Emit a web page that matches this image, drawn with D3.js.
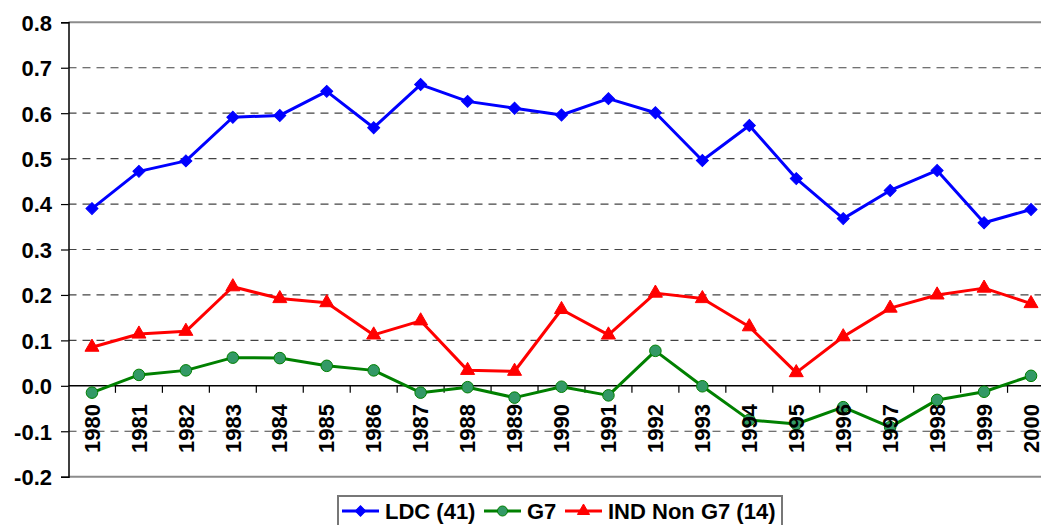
<!DOCTYPE html>
<html>
<head>
<meta charset="utf-8">
<script src="https://cdn.jsdelivr.net/npm/d3@7"></script>
<style>
    body { margin: 0; background: #fff; }
    svg text { font-family: "Liberation Sans", Arial, sans-serif; font-weight: bold; fill: #000; }
</style>
</head>
<body>
<svg id="chart" width="1041" height="525"></svg>
<script>
const years = [1980, 1981, 1982, 1983, 1984, 1985, 1986, 1987, 1988, 1989, 1990,
    1991, 1992, 1993, 1994, 1995, 1996, 1997, 1998, 1999, 2000];

const ldc = [0.390, 0.472, 0.495, 0.591, 0.595, 0.648, 0.568, 0.663, 0.626, 0.611, 0.596,
    0.632, 0.601, 0.496, 0.573, 0.456, 0.368, 0.430, 0.474, 0.359, 0.388];
const g7 = [-0.015, 0.024, 0.034, 0.062, 0.061, 0.044, 0.034, -0.015, -0.003, -0.026, -0.002,
    -0.021, 0.077, -0.001, -0.075, -0.084, -0.047, -0.091, -0.031, -0.013, 0.022];
const indNonG7 = [0.085, 0.114, 0.120, 0.218, 0.192, 0.183, 0.112, 0.143, 0.034, 0.032, 0.168,
    0.112, 0.204, 0.192, 0.130, 0.029, 0.108, 0.171, 0.200, 0.215, 0.181];

const yTicks = [-0.2, -0.1, 0.0, 0.1, 0.2, 0.3, 0.4, 0.5, 0.6, 0.7, 0.8];
const yTickLabels = ["-0.2", "-0.1", "0.0", "0.1", "0.2", "0.3", "0.4", "0.5", "0.6", "0.7", "0.8"];
const seriesNames = ["LDC (41)", "G7", "IND Non G7 (14)"];

(() => { // IIFE

    const svg = d3.select("svg#chart");

    // plot area (runs off the right edge like the original)
    const left = 68.5, right = 1054.5, top = 22.3, bottom = 476.7;

    const xScale = d3.scaleBand()
        .domain(years)
        .range([left, right]);
    const xMid = (d) => xScale(d) + xScale.bandwidth() / 2;

    const yScale = d3.scaleLinear()
        .domain([-0.2, 0.8])
        .range([bottom, top]);

    // diamond = square turned 45deg
    const series = [
        {name: seriesNames[0], values: ldc, line: "#0000ff", fill: "#0000ff", stroke: "#0000ff", shape: d3.symbolSquare, size: 72, rot: 45},
        {name: seriesNames[1], values: g7, line: "#008000", fill: "#339966", stroke: "#008000", shape: d3.symbolCircle, size: 105, rot: 0},
        {name: seriesNames[2], values: indNonG7, line: "#ff0000", fill: "#ff0000", stroke: "#ff0000", shape: d3.symbolTriangle, size: 85, rot: 0},
    ];

    // grid lines
    svg.append("g")
        .selectAll("line")
        .data(yTicks.filter(t => t !== 0 && t !== -0.2 && t !== 0.8))
        .enter().append("line")
        .attr("x1", left).attr("x2", right)
        .attr("y1", d => yScale(d)).attr("y2", d => yScale(d))
        .style("stroke", "#444")
        .style("stroke-width", 1.2)
        .style("stroke-dasharray", "8,6");

    // plot border top / bottom
    [0.8, -0.2].forEach(v => {
        svg.append("line")
            .attr("x1", left).attr("x2", right)
            .attr("y1", yScale(v)).attr("y2", yScale(v))
            .style("stroke", "#8c8c8c")
            .style("stroke-width", 2);
    });

    // y axis
    const yAxis = svg.append("g")
        .attr("transform", `translate(${left}, 0)`)
        .call(d3.axisLeft(yScale)
            .tickValues(yTicks)
            .tickSize(7.5)
            .tickPadding(9)
            .tickFormat((d, i) => yTickLabels[i]));
    yAxis.select(".domain").style("stroke", "#000").style("stroke-width", 1.5);
    yAxis.selectAll(".tick line").style("stroke", "#000").style("stroke-width", 1.2);
    yAxis.selectAll(".tick text").style("font-size", "22px").attr("dy", "0.36em");

    // x axis at zero, ticks between categories
    const zeroY = yScale(0);
    svg.append("line")
        .attr("x1", left).attr("x2", right)
        .attr("y1", zeroY).attr("y2", zeroY)
        .style("stroke", "#000")
        .style("stroke-width", 1.5);

    svg.append("g")
        .selectAll("line")
        .data(years)
        .enter().append("line")
        .attr("x1", d => xScale(d) + xScale.bandwidth())
        .attr("x2", d => xScale(d) + xScale.bandwidth())
        .attr("y1", zeroY).attr("y2", zeroY + 7)
        .style("stroke", "#000")
        .style("stroke-width", 1.2);

    // lines + markers
    series.forEach(s => {
        const line = d3.line()
            .x((d, i) => xMid(years[i]))
            .y(d => yScale(d));

        svg.append("path")
            .datum(s.values)
            .attr("d", line)
            .style("fill", "none")
            .style("stroke", s.line)
            .style("stroke-width", 3)
            .style("stroke-linejoin", "round");

        svg.append("g")
            .selectAll("path")
            .data(s.values)
            .enter().append("path")
            .attr("transform", (d, i) => `translate(${xMid(years[i])}, ${yScale(d)}) rotate(${s.rot})`)
            .attr("d", d3.symbol().type(s.shape).size(s.size))
            .style("fill", s.fill)
            .style("stroke", s.stroke)
            .style("stroke-width", 1);
    });

    // x labels (drawn on top of the lines, as in the original)
    svg.append("g")
        .selectAll("text")
        .data(years)
        .enter().append("text")
        .attr("transform", d => `translate(${xMid(d)}, 404) rotate(-90)`)
        .attr("dy", "0.35em")
        .attr("text-anchor", "end")
        .style("font-size", "22px")
        .text(d => d);

    // legend
    const legend = svg.append("g");
    legend.append("rect")
        .attr("x", 338).attr("y", 496)
        .attr("width", 444).attr("height", 45)
        .style("fill", "#fff")
        .style("stroke", "#777")
        .style("stroke-width", 2);

    const legendX = [342, 484, 565];
    series.forEach((s, i) => {
        const x0 = legendX[i];
        legend.append("line")
            .attr("x1", x0).attr("x2", x0 + 37)
            .attr("y1", 511).attr("y2", 511)
            .style("stroke", s.line)
            .style("stroke-width", 3);
        legend.append("path")
            .attr("transform", `translate(${x0 + 18.5}, 511) rotate(${s.rot})`)
            .attr("d", d3.symbol().type(s.shape).size(s.size * 0.75))
            .style("fill", s.fill)
            .style("stroke", s.stroke)
            .style("stroke-width", 1);
        legend.append("text")
            .attr("x", x0 + 43)
            .attr("y", 519)
            .style("font-size", "22px")
            .text(s.name);
    });

})();
</script>
</body>
</html>
